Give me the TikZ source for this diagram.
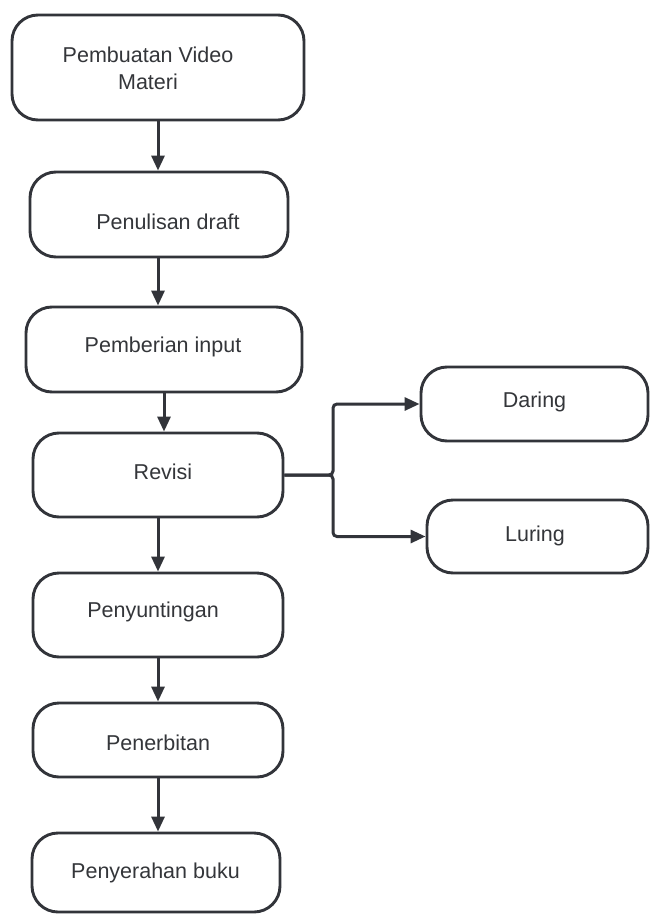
\documentclass[tikz,border=0pt]{standalone}
\usepackage{fontspec}
\setmainfont{Liberation Sans}
\usetikzlibrary{arrows.meta}
\definecolor{ln}{RGB}{50,52,58}
\definecolor{tx}{RGB}{52,54,58}
\begin{document}
\begin{tikzpicture}[x=1pt,y=-1pt,
  box/.style={draw=ln, line width=2.9pt, rounded corners=26pt, fill=white, inner sep=0pt},
  txt/.style={text=tx, font=\fontsize{21.5}{27}\selectfont, align=center, inner sep=0pt},
  arr/.style={draw=ln, line width=3pt, -{Triangle[length=15pt,width=13pt]}},
  br/.style={draw=ln, line width=3pt, rounded corners=4pt, -{Triangle[length=15pt,width=13pt]}}]
\useasboundingbox[fill=white] (0,0) rectangle (650,915);
% boxes
\node[box, minimum width=292pt, minimum height=105pt] (b1) at (158,67.5) {};
\node[box, minimum width=258pt, minimum height=85pt] (b2) at (159,214.5) {};
\node[box, minimum width=276pt, minimum height=85pt] (b3) at (164,349.5) {};
\node[box, minimum width=250pt, minimum height=84pt] (b4) at (158,475) {};
\node[box, minimum width=250pt, minimum height=84pt] (b5) at (158,615) {};
\node[box, minimum width=250pt, minimum height=74pt] (b6) at (158,740) {};
\node[box, minimum width=248pt, minimum height=79pt] (b7) at (156,872.5) {};
\node[box, minimum width=227pt, minimum height=74pt] (d) at (534.5,404) {};
\node[box, minimum width=221pt, minimum height=73pt] (l) at (537.5,536.5) {};
% texts
\node[txt] (t1) at (148,68.5) {Pembuatan Video\\Materi};
\node[txt] (t2) at (168,222) {Penulisan draft};
\node[txt] (t3) at (163,347) {Pemberian input};
\node[txt] (t4) at (163,472) {Revisi};
\node[txt] (t5) at (153,612) {Penyuntingan};
\node[txt] (t6) at (158,743) {Penerbitan};
\node[txt] (t7) at (155.5,873) {Penyerahan buku};
\node[txt] (td) at (534.5,402) {Daring};
\node[txt] (tl) at (535,536) {Luring};
% arrows
\draw[arr] (b1.south) -- (b1.south |- b2.north);
\draw[arr] (b2.south -| b1.south) -- (b3.north -| b1.south);
\draw[arr] (b3.south) -- (b3.south |- b4.north);
\draw[arr] (b4.south) -- (b4.south |- b5.north);
\draw[arr] (b5.south) -- (b5.south |- b6.north);
\draw[arr] (b6.south) -- (b6.south |- b7.north);
% branch
\coordinate (j) at (333,475);
\draw[br] (b4.east) -- (j) |- (d.west);
\draw[br] (b4.east) -- (j) |- (l.west);
\end{tikzpicture}
\end{document}
